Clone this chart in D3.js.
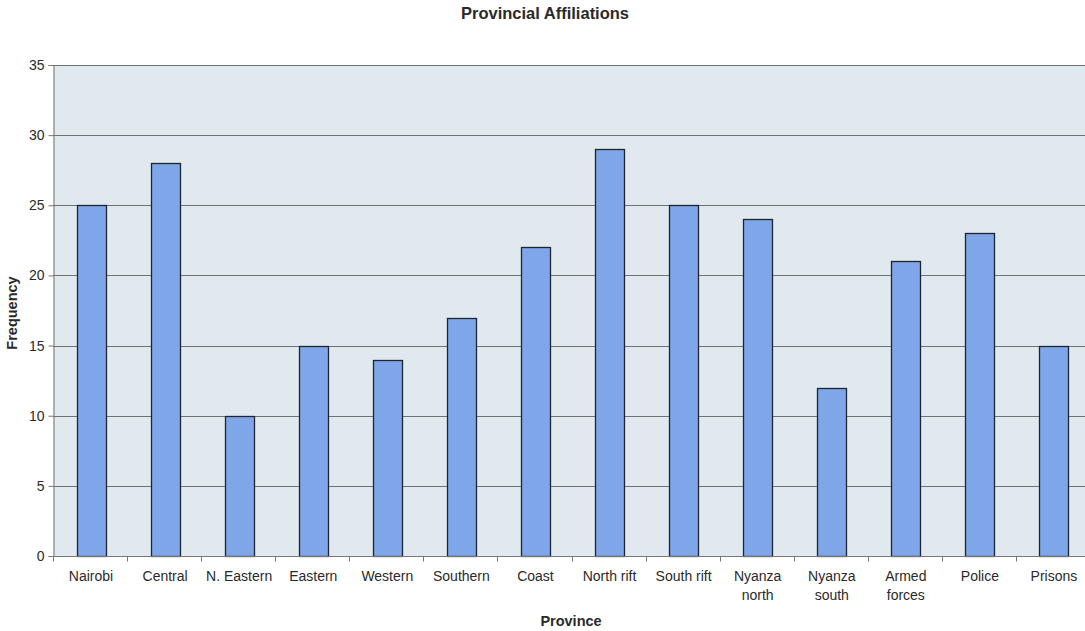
<!DOCTYPE html>
<html>
<head>
<meta charset="utf-8">
<script src="https://cdn.jsdelivr.net/npm/d3@7"></script>
<style>
  html, body { margin: 0; padding: 0; background: #fff; }
  svg { display: block; font-family: "Liberation Sans", Arial, sans-serif; }
</style>
</head>
<body>
<svg id="chart" width="1085" height="631"></svg>
<script>
// Respondents per province
const provinces = [
  ["Nairobi"], ["Central"], ["N. Eastern"], ["Eastern"], ["Western"],
  ["Southern"], ["Coast"], ["North rift"], ["South rift"],
  ["Nyanza", "north"], ["Nyanza", "south"], ["Armed", "forces"],
  ["Police"], ["Prisons"]
];
const frequency = [25, 28, 10, 15, 14, 17, 22, 29, 25, 24, 12, 21, 23, 15];
const yTicks = [0, 5, 10, 15, 20, 25, 30, 35];

const svg = d3.select("#chart");
const plot = { left: 53, top: 65, right: 1090, bottom: 556 };
const textColor = "#2a2a2a";

const keys = provinces.map(p => p.join(" "));
const xb = d3.scaleBand().domain(keys).range([plot.left, plot.right]);
const y = d3.scaleLinear().domain([0, 35]).range([plot.bottom, plot.top]);
const barW = 29;

// plot background
svg.append("rect")
  .attr("x", plot.left).attr("y", plot.top)
  .attr("width", plot.right - plot.left).attr("height", plot.bottom - plot.top)
  .attr("fill", "#dfe9ee");

// horizontal gridlines
svg.append("g").selectAll("line").data(yTicks.filter(d => d > 0)).join("line")
  .attr("x1", plot.left).attr("x2", plot.right)
  .attr("y1", d => Math.round(y(d)) + 0.5).attr("y2", d => Math.round(y(d)) + 0.5)
  .attr("stroke", "#6f7275").attr("stroke-width", 1);

// bars
svg.append("g").selectAll("rect").data(frequency).join("rect")
  .attr("x", (d, i) => Math.round(xb(keys[i]) + (xb.bandwidth() - barW) / 2 + 1) + 0.5)
  .attr("y", d => Math.round(y(d)) + 0.5)
  .attr("width", barW)
  .attr("height", d => Math.round(y(0)) - Math.round(y(d)))
  .attr("fill", "#7ea6e8")
  .attr("stroke", "#1f2430").attr("stroke-width", 1.3);

// y axis
const yAxis = svg.append("g")
  .attr("transform", `translate(${plot.left + 0.5},0)`)
  .call(d3.axisLeft(y).tickValues(yTicks).tickSize(5).tickPadding(4));
yAxis.select(".domain").attr("stroke", "#777");
yAxis.selectAll(".tick line").attr("stroke", "#777");
yAxis.selectAll(".tick text").attr("font-size", 14).attr("fill", textColor)
  .attr("font-family", "Liberation Sans, Arial, sans-serif");

// x axis with ticks on category boundaries
const xAxisG = svg.append("g").attr("transform", `translate(0,${Math.round(y(0)) + 0.5})`);
xAxisG.append("line").attr("x1", plot.left).attr("x2", plot.right)
  .attr("stroke", "#777");
xAxisG.selectAll("line.tk").data(keys).join("line").attr("class", "tk")
  .attr("x1", d => Math.round(xb(d)) + 0.5).attr("x2", d => Math.round(xb(d)) + 0.5)
  .attr("y1", 0).attr("y2", 5).attr("stroke", "#777");

const labels = svg.append("g").selectAll("text").data(provinces).join("text")
  .attr("x", (d, i) => xb(keys[i]) + xb.bandwidth() / 2 + 1)
  .attr("y", 581)
  .attr("text-anchor", "middle")
  .attr("font-size", 14).attr("fill", textColor);
labels.each(function(d) {
  const t = d3.select(this);
  d.forEach((line, j) => {
    t.append("tspan").attr("x", t.attr("x")).attr("dy", j === 0 ? 0 : 19).text(line);
  });
});

// titles
svg.append("text").attr("x", 545).attr("y", 19).attr("text-anchor", "middle")
  .attr("font-size", 16.5).attr("font-weight", "bold").attr("fill", textColor)
  .text("Provincial Affiliations");
svg.append("text").attr("x", 571).attr("y", 626).attr("text-anchor", "middle")
  .attr("font-size", 14.5).attr("font-weight", "bold").attr("fill", textColor)
  .text("Province");
svg.append("text").attr("transform", "translate(17,313) rotate(-90)")
  .attr("text-anchor", "middle")
  .attr("font-size", 14.5).attr("font-weight", "bold").attr("fill", textColor)
  .text("Frequency");
</script>
</body>
</html>
